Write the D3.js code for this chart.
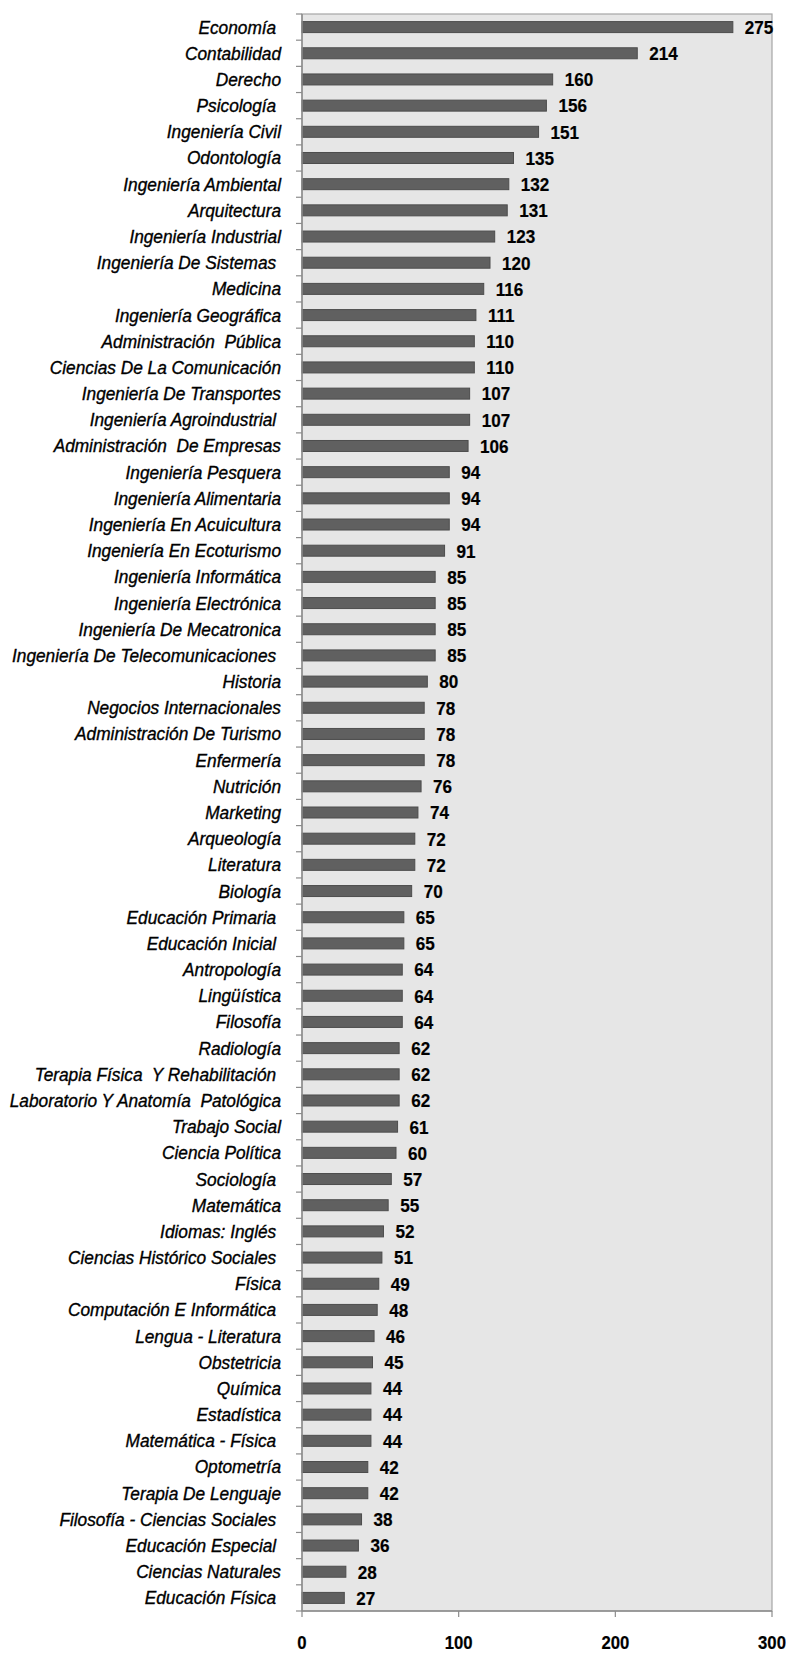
<!DOCTYPE html>
<html>
<head>
<meta charset="utf-8">
<script src="https://cdn.jsdelivr.net/npm/d3@7"></script>
<style>
  html, body { margin: 0; padding: 0; background: #ffffff; }
  svg { display: block; }
  .lbl { font-family: "Liberation Sans", Arial, sans-serif; font-style: italic; white-space: pre; }
  .val, .xt { font-family: "Liberation Sans", Arial, sans-serif; font-weight: bold; }
</style>
</head>
<body>
<script>
const categories = [
  "Economía ", "Contabilidad", "Derecho", "Psicología ", "Ingeniería Civil", "Odontología",
  "Ingeniería Ambiental", "Arquitectura", "Ingeniería Industrial", "Ingeniería De Sistemas ",
  "Medicina", "Ingeniería Geográfica", "Administración  Pública", "Ciencias De La Comunicación",
  "Ingeniería De Transportes", "Ingeniería Agroindustrial ", "Administración  De Empresas",
  "Ingeniería Pesquera", "Ingeniería Alimentaria", "Ingeniería En Acuicultura",
  "Ingeniería En Ecoturismo", "Ingeniería Informática", "Ingeniería Electrónica",
  "Ingeniería De Mecatronica", "Ingeniería De Telecomunicaciones ", "Historia",
  "Negocios Internacionales", "Administración De Turismo", "Enfermería", "Nutrición",
  "Marketing", "Arqueología", "Literatura", "Biología", "Educación Primaria ",
  "Educación Inicial ", "Antropología", "Lingüística", "Filosofía", "Radiología",
  "Terapia Física  Y Rehabilitación ", "Laboratorio Y Anatomía  Patológica", "Trabajo Social",
  "Ciencia Política", "Sociología ", "Matemática", "Idiomas: Inglés ",
  "Ciencias Histórico Sociales ", "Física", "Computación E Informática ", "Lengua - Literatura",
  "Obstetricia", "Química", "Estadística", "Matemática - Física ", "Optometría",
  "Terapia De Lenguaje", "Filosofía - Ciencias Sociales ", "Educación Especial ",
  "Ciencias Naturales", "Educación Física "
];
const values = [
  275, 214, 160, 156, 151, 135, 132, 131, 123, 120,
  116, 111, 110, 110, 107, 107, 106, 94, 94, 94,
  91, 85, 85, 85, 85, 80, 78, 78, 78, 76,
  74, 72, 72, 70, 65, 65, 64, 64, 64, 62,
  62, 62, 61, 60, 57, 55, 52, 51, 49, 48,
  46, 45, 44, 44, 44, 42, 42, 38, 36, 28, 27
];
const xTicks = [0, 100, 200, 300];

const W = 789, H = 1653;
const pLeft = 302, pRight = 772, pTop = 14, pBottom = 1611;

const svg = d3.select("body").append("svg").attr("width", W).attr("height", H);

const x = d3.scaleLinear().domain([0, 300]).range([pLeft, pRight]);
const y = d3.scaleBand().domain(categories).range([pTop, pBottom])
  .paddingInner(0.58).paddingOuter(0.29);
const step = y.step();

// plot background
svg.append("rect")
  .attr("x", pLeft).attr("y", pTop)
  .attr("width", pRight - pLeft).attr("height", pBottom - pTop)
  .attr("fill", "#e6e6e6").attr("stroke", "#a6a6a6").attr("stroke-width", 1.2);

// bars
svg.append("g").selectAll("rect").data(values).join("rect")
  .attr("x", x(0))
  .attr("y", (d, i) => y(categories[i]))
  .attr("width", d => x(d) - x(0))
  .attr("height", y.bandwidth())
  .attr("fill", "#606060")
  .attr("stroke", "#4d4d4d")
  .attr("stroke-width", 1);

// value labels
svg.append("g").selectAll("text").data(values).join("text")
  .attr("class", "val")
  .attr("transform", (d, i) => `translate(${x(d) + 12},${y(categories[i]) + y.bandwidth() / 2}) scale(0.9,1)`)
  .attr("dy", "0.36em")
  .attr("font-size", 19)
  .attr("fill", "#000")
  .attr("stroke", "#000").attr("stroke-width", 0.2)
  .text(d => d);

// y-axis line and ticks at band boundaries
const gy = svg.append("g");
gy.append("line").attr("x1", pLeft).attr("x2", pLeft).attr("y1", pTop).attr("y2", pBottom)
  .attr("stroke", "#8c8c8c").attr("stroke-width", 1.5);
const bounds = d3.range(categories.length + 1).map(i => pTop + i * step);
gy.selectAll("line.t").data(bounds).join("line").attr("class", "t")
  .attr("x1", pLeft - 6).attr("x2", pLeft).attr("y1", d => d).attr("y2", d => d)
  .attr("stroke", "#8c8c8c").attr("stroke-width", 1.2);

// category labels
svg.append("g").selectAll("text").data(categories).join("text")
  .attr("class", "lbl")
  .attr("transform", d => `translate(${pLeft - 21},${y(d) + y.bandwidth() / 2}) scale(0.96,1)`)
  .attr("dy", "0.36em")
  .attr("text-anchor", "end")
  .attr("font-size", 18)
  .attr("fill", "#000")
  .attr("stroke", "#000").attr("stroke-width", 0.35)
  .text(d => d);

// x axis
const gx = svg.append("g");
gx.append("line").attr("x1", pLeft).attr("x2", pRight).attr("y1", pBottom).attr("y2", pBottom)
  .attr("stroke", "#8c8c8c").attr("stroke-width", 1.5);
gx.selectAll("line.t").data(xTicks).join("line").attr("class", "t")
  .attr("x1", d => x(d)).attr("x2", d => x(d)).attr("y1", pBottom).attr("y2", pBottom + 6)
  .attr("stroke", "#8c8c8c").attr("stroke-width", 1.2);
gx.selectAll("text").data(xTicks).join("text")
  .attr("class", "xt")
  .attr("transform", d => `translate(${x(d)},1642) scale(0.88,1)`)
  .attr("dy", "0.36em")
  .attr("text-anchor", "middle")
  .attr("font-size", 19)
  .attr("fill", "#000")
  .attr("stroke", "#000").attr("stroke-width", 0.2)
  .text(d => d);
</script>
</body>
</html>
